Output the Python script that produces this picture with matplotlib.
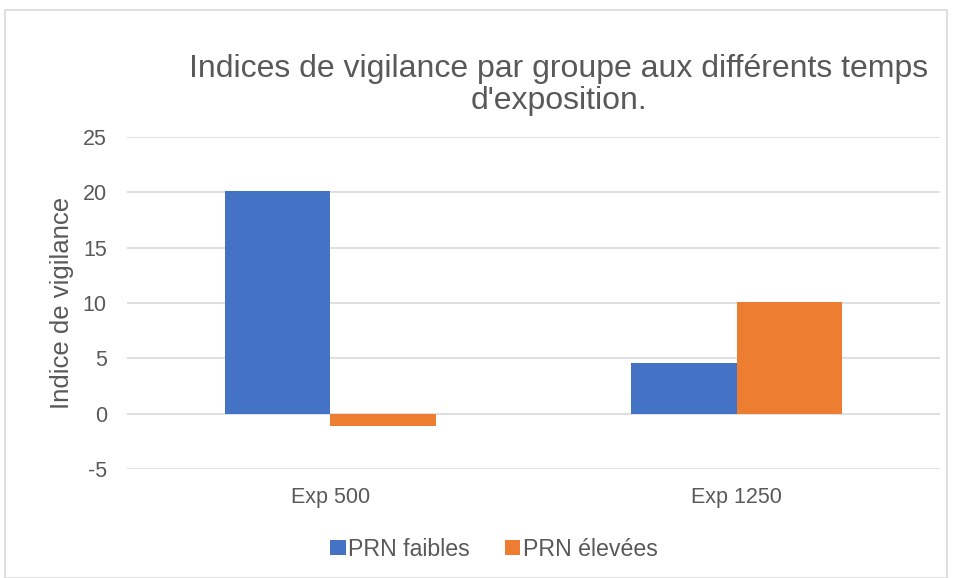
import matplotlib
matplotlib.use("Agg")
import matplotlib.pyplot as plt
from matplotlib.patches import Rectangle
import numpy as np

categories = ["Exp 500", "Exp 1250"]
series_names = ["PRN faibles", "PRN élevées"]
prn_faibles = [20.1, 4.6]
prn_elevees = [-1.1, 10.1]
yticks = [-5, 0, 5, 10, 15, 20, 25]

plt.rcParams['font.family'] = ['Liberation Sans', 'DejaVu Sans']
gray = "#595959"

fig = plt.figure(figsize=(9.54, 5.78), dpi=100)
fig.patches.append(Rectangle((5/954, 0), 942/954, 1 - 10/578, transform=fig.transFigure,
                             fill=False, edgecolor="#d9d9d9", linewidth=1.2))
ax = fig.add_axes([127/954, 1 - 469/578, 813/954, (469 - 137)/578])

x = np.arange(len(categories))
w = 0.26
ax.bar(x - w/2, prn_faibles, w, color="#4472C4", label=series_names[0], zorder=3)
ax.bar(x + w/2, prn_elevees, w, color="#ED7D31", label=series_names[1], zorder=3)

ax.set_xlim(-0.5, 1.5)
ax.set_ylim(-5, 25)
ax.set_yticks(yticks)
ax.set_yticklabels([str(v) for v in yticks])
ax.set_xticks(x)
ax.set_xticklabels(categories)
ax.grid(axis="y", color="#d9d9d9", linewidth=1.2, zorder=0)
for s in ax.spines.values():
    s.set_visible(False)
ax.tick_params(axis="both", length=0, labelsize=15.5, labelcolor=gray)
ax.tick_params(axis="y", pad=14.5)
ax.tick_params(axis="x", pad=13)
ax.set_ylabel("Indice de vigilance", fontsize=18.5, color=gray)
ax.yaxis.set_label_coords(-(127 - 74) / 813, 0.5)

fig.text(559/954, 1 - 85/578, "Indices de vigilance par groupe aux différents temps\nd'exposition.",
         ha="center", va="center", fontsize=23, color=gray, linespacing=1.12)

leg = fig.legend(loc="center", bbox_to_anchor=(494/954, 1 - 549/578), ncol=2, frameon=False,
                 fontsize=16.7, handlelength=0.65, handleheight=0.65, handletextpad=0.12,
                 columnspacing=1.5, borderpad=0)
for t in leg.get_texts():
    t.set_color(gray)

fig.savefig("out.png", dpi=100)
